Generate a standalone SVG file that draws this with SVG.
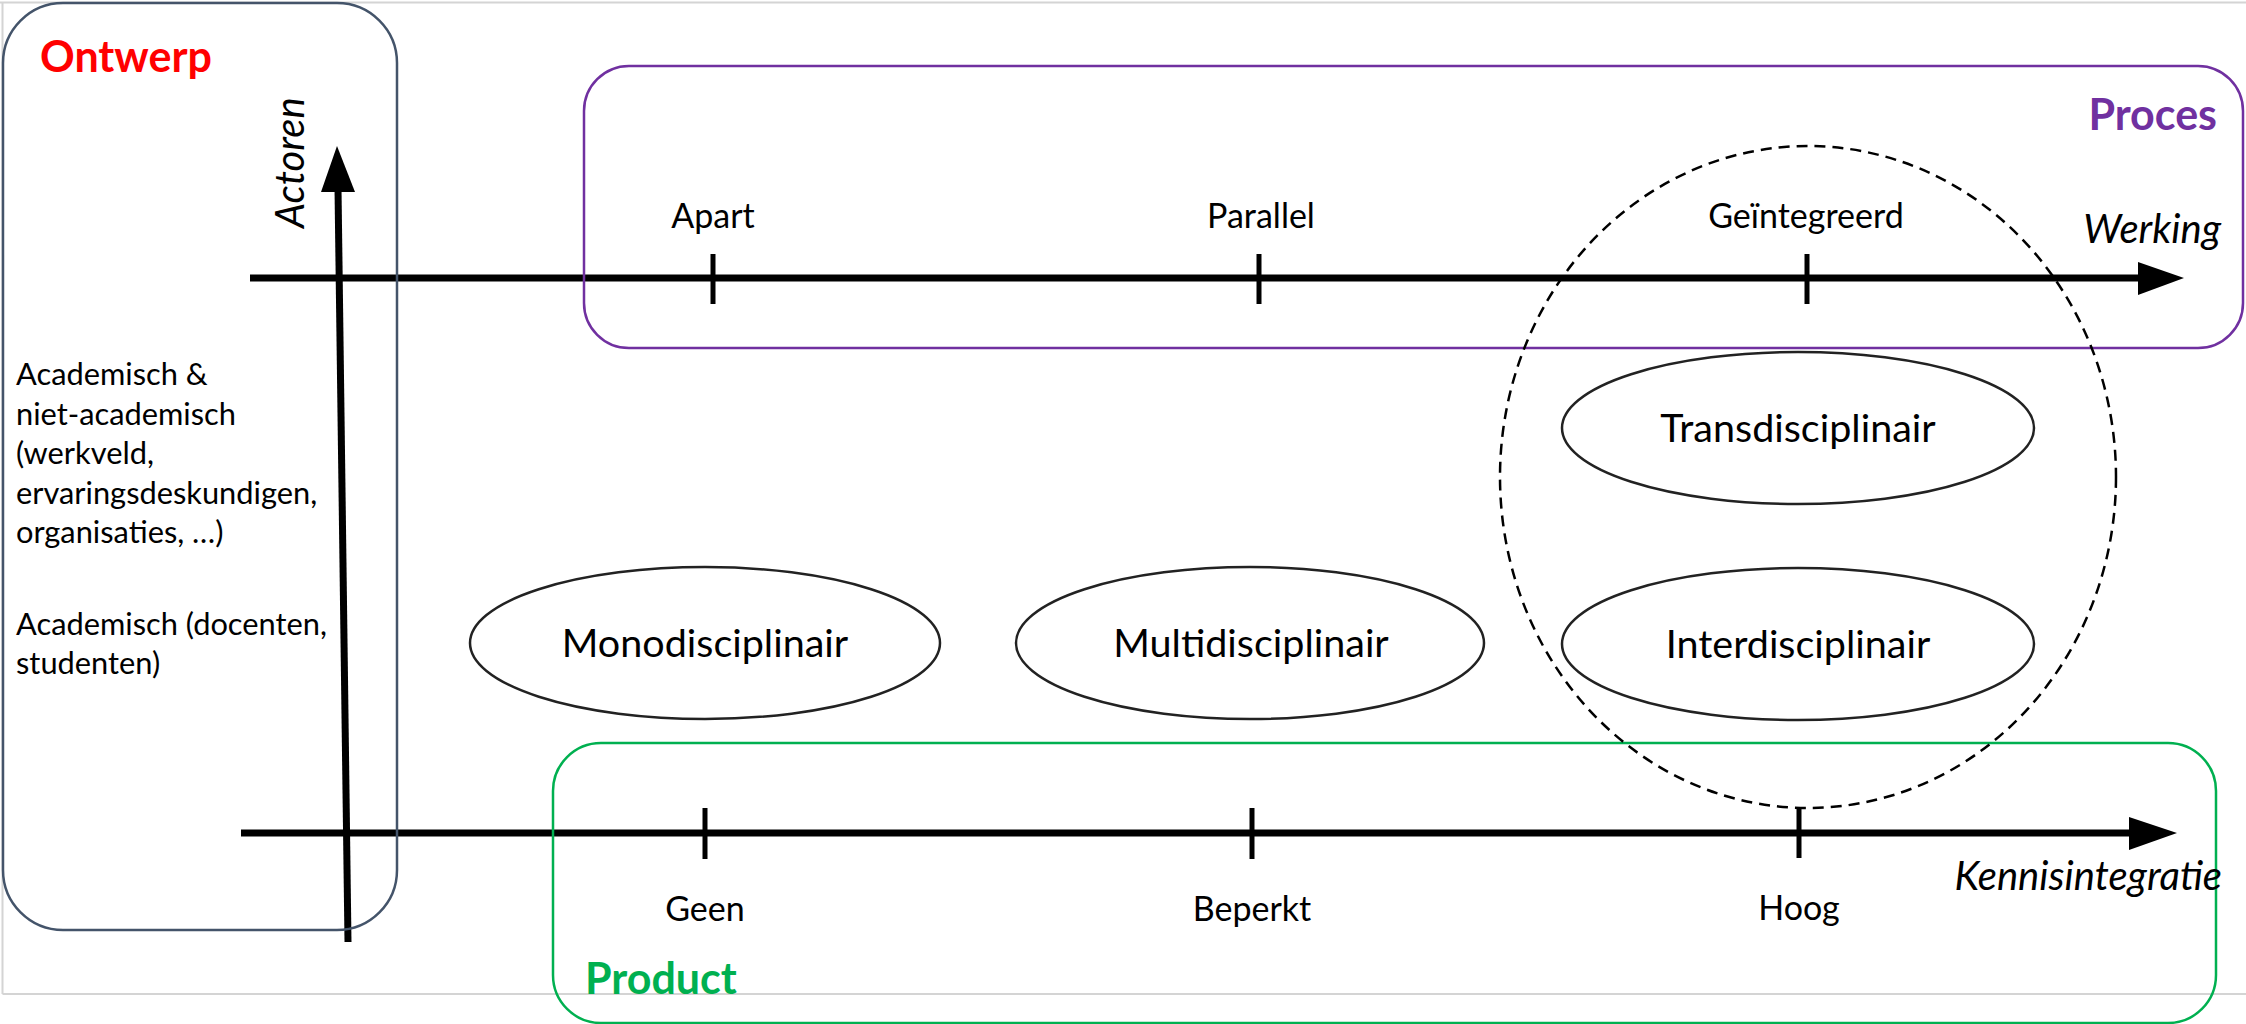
<svg xmlns="http://www.w3.org/2000/svg" width="2246" height="1024" viewBox="0 0 2246 1024">
  <style>
    text { font-family: Lato, "Open Sans", "Liberation Sans", sans-serif; fill: #000; }
    .tick-label { font-size: 34px; text-anchor: middle; }
    .axis-title { font-size: 40px; font-style: italic; }
    .side { font-size: 30.8px; }
    .node-text { font-size: 39.5px; text-anchor: middle; }
    .head { font-size: 43px; font-weight: bold; }
    .axis { stroke: #000; stroke-width: 7; fill: none; }
    .tick { stroke: #000; stroke-width: 5; }
    .oval { fill: #fff; stroke: #222; stroke-width: 2.5; }
    .frame { fill: none; stroke-width: 2.5; }
  </style>

  <rect width="2246" height="1024" fill="#fff"/>
  <!-- page border -->
  <path d="M0 2.5 H2246 M2.5 2.5 V994 M2.5 994 H2246" fill="none" stroke="#d4d4d4" stroke-width="2"/>

  <!-- axes -->
  <g id="connectors">
    <g id="axis-werking">
      <line class="axis" x1="250" y1="278" x2="2142" y2="278"/>
      <polygon points="2138,262 2184,278 2138,295" fill="#000"/>
      <line class="tick" x1="713" y1="254" x2="713" y2="304"/>
      <line class="tick" x1="1259" y1="254" x2="1259" y2="304"/>
      <line class="tick" x1="1807" y1="254" x2="1807" y2="304"/>
    </g>
    <g id="axis-kennisintegratie">
      <line class="axis" x1="241" y1="833" x2="2132" y2="833"/>
      <polygon points="2129,817 2177,833 2129,850" fill="#000"/>
      <line class="tick" x1="705" y1="808" x2="705" y2="859"/>
      <line class="tick" x1="1252" y1="808" x2="1252" y2="859"/>
      <line class="tick" x1="1799" y1="808" x2="1799" y2="858"/>
    </g>
    <g id="axis-actoren">
      <line class="axis" x1="348" y1="942" x2="338" y2="188"/>
      <polygon points="321,192 337,146 355,192" fill="#000"/>
    </g>
  </g>

  <!-- Ontwerp -->
  <g id="ontwerp">
    <rect class="frame" x="3" y="3" width="394" height="927" rx="60" ry="60" stroke="#44546A"/>
    <text class="head" x="40" y="72" style="fill:#FF0000">Ontwerp</text>
    <text class="axis-title" transform="translate(304,228) rotate(-90)">Actoren</text>
    <text class="side">
      <tspan x="16" y="385">Academisch &amp;</tspan>
      <tspan x="16" y="424.5">niet-academisch</tspan>
      <tspan x="16" y="464">(werkveld,</tspan>
      <tspan x="16" y="503.5">ervaringsdeskundigen,</tspan>
      <tspan x="16" y="543">organisaties, …)</tspan>
    </text>
    <text class="side">
      <tspan x="16" y="635">Academisch (docenten,</tspan>
      <tspan x="16" y="674">studenten)</tspan>
    </text>
  </g>

  <!-- Proces -->
  <g id="proces">
    <rect class="frame" x="584" y="66" width="1659" height="282" rx="45" ry="45" stroke="#7030A0"/>
    <text class="head" x="2217" y="130" text-anchor="end" style="fill:#7030A0">Proces</text>
    <text class="tick-label" x="713" y="228">Apart</text>
    <text class="tick-label" x="1261" y="228">Parallel</text>
    <text class="tick-label" x="1806" y="228">Geïntegreerd</text>
    <text class="axis-title" x="2221" y="243" text-anchor="end">Werking</text>
  </g>

  <!-- Product -->
  <g id="product">
    <rect class="frame" x="553" y="743" width="1663" height="280" rx="48" ry="48" stroke="#00B050"/>
    <text class="head" x="585" y="994" style="fill:#00B050">Product</text>
    <text class="tick-label" x="705" y="921">Geen</text>
    <text class="tick-label" x="1252" y="921">Beperkt</text>
    <text class="tick-label" x="1799" y="920">Hoog</text>
    <text class="axis-title" x="2222" y="890" text-anchor="end">Kennisintegratie</text>
  </g>

  <!-- disciplinary forms -->
  <g id="monodisciplinair">
    <ellipse class="oval" cx="705" cy="643" rx="235" ry="76"/>
    <text class="node-text" x="705" y="657">Monodisciplinair</text>
  </g>
  <g id="multidisciplinair">
    <ellipse class="oval" cx="1250" cy="643" rx="234" ry="76"/>
    <text class="node-text" x="1251" y="657">Multidisciplinair</text>
  </g>
  <g id="interdisciplinair">
    <ellipse class="oval" cx="1798" cy="644" rx="236" ry="76"/>
    <text class="node-text" x="1798" y="658">Interdisciplinair</text>
  </g>
  <g id="transdisciplinair">
    <ellipse class="oval" cx="1798" cy="428" rx="236" ry="76"/>
    <text class="node-text" x="1798" y="442">Transdisciplinair</text>
  </g>

  <!-- integrated cluster -->
  <g id="integratie-cluster">
    <ellipse cx="1808" cy="477" rx="308" ry="331" fill="none" stroke="#000" stroke-width="2.5" stroke-dasharray="11 7"/>
  </g>
</svg>
